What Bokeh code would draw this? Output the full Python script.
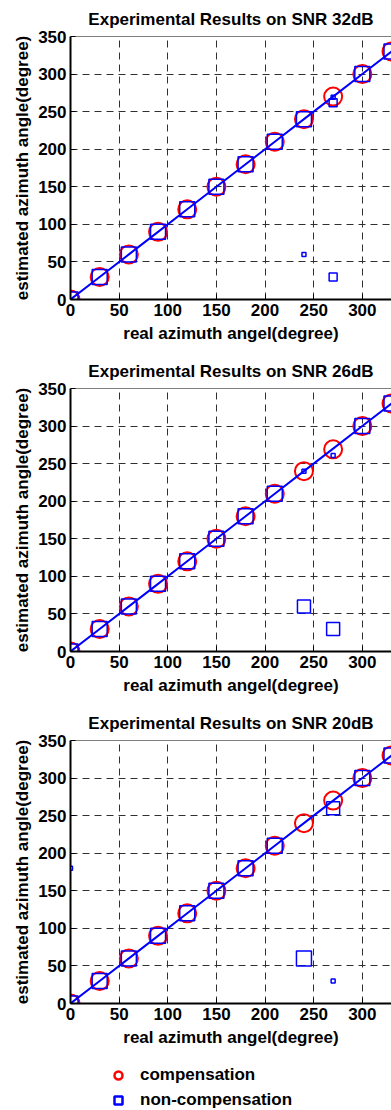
from bokeh.plotting import figure
from bokeh.layouts import column
from bokeh.models import FixedTicker, Range1d, Span, Legend, LegendItem
from bokeh.embed import file_html
from bokeh.resources import INLINE

# ---------------- data ----------------
real_angle = [0, 30, 60, 90, 120, 150, 180, 210, 240, 270, 300, 330]
x_ticks = [0, 50, 100, 150, 200, 250, 300]
y_ticks = [0, 50, 100, 150, 200, 250, 300, 350]
titles = ["Experimental Results on SNR 32dB",
          "Experimental Results on SNR 26dB",
          "Experimental Results on SNR 20dB"]
series_names = ["compensation", "non-compensation"]

# compensation estimates
comp_32 = [0, 30, 60, 90, 120, 150, 180, 210, 240, 270, 300, 330]
comp_26 = [0, 30, 60, 90, 120, 150, 180, 210, 240, 269, 300, 330]
comp_20 = [0, 30, 60, 90, 120, 150, 180, 210, 240, 270, 300, 330]

# non-compensation estimates (real angle, estimated angle)
nc_32_x = [0, 30, 60, 90, 120, 150, 180, 210, 240, 270, 270, 300, 330, 240, 270]
nc_32_y = [0, 30, 60, 90, 120, 150, 180, 210, 240, 269, 262, 300, 330, 60, 30]
nc_26_x = [0, 30, 60, 90, 120, 150, 180, 210, 240, 270, 300, 330, 240, 270]
nc_26_y = [0, 30, 60, 90, 120, 150, 180, 210, 240, 261, 300, 330, 60, 30]
nc_20_x = [0, 30, 60, 90, 120, 150, 180, 210, 270, 300, 330, 0, 240, 270]
nc_20_y = [0, 30, 60, 90, 120, 150, 180, 210, 260, 300, 330, 180, 60, 30]

# marker sizes of the non-compensation squares (px)
nc_32_size = [15, 15, 15, 15, 15, 15, 15, 15, 15, 4, 8, 15, 15, 4, 8]
nc_26_size = [15, 15, 15, 15, 15, 15, 15, 15, 4, 4, 15, 15, 13, 13]
nc_20_size = [15, 15, 15, 15, 15, 15, 15, 15, 13, 15, 15, 4, 15, 4]

FONT = "Liberation Sans"
FS = "17px"


def make_panel(title, comp, nc_x, nc_y, nc_size):
    p = figure(width=391, height=352, output_backend="svg", toolbar_location=None,
               x_range=Range1d(0, 330), y_range=Range1d(0, 350),
               min_border_left=70, min_border_right=0, min_border_top=35,
               min_border_bottom=53)
    p.title.text = title
    p.title.text_font = FONT
    p.title.text_font_style = "bold"
    p.title.text_font_size = FS
    p.title.text_color = "black"
    p.title.align = "center"
    p.title.standoff = 15
    p.outline_line_color = None
    p.background_fill_color = "white"
    p.border_fill_color = "white"

    p.xaxis.ticker = FixedTicker(ticks=x_ticks)
    p.yaxis.ticker = FixedTicker(ticks=y_ticks)
    p.xaxis.axis_label = "real azimuth angel(degree)"
    p.yaxis.axis_label = "estimated azimuth angle(degree)"
    for ax in (p.xaxis, p.yaxis):
        ax.axis_label_text_font = FONT
        ax.axis_label_text_font_style = "bold"
        ax.axis_label_text_font_size = FS
        ax.axis_label_text_color = "black"
        ax.major_label_text_font = FONT
        ax.major_label_text_font_style = "bold"
        ax.major_label_text_font_size = FS
        ax.major_label_text_color = "black"
        ax.major_tick_in = 5
        ax.major_tick_out = 0
        ax.minor_tick_line_color = None
        ax.axis_line_width = 2
        ax.axis_line_color = "black"
        ax.major_tick_line_color = "black"
        ax.major_label_standoff = 4
        ax.axis_label_standoff = 3
    p.xaxis.axis_label_standoff = 5

    p.grid.grid_line_color = "#303030"
    p.grid.grid_line_dash = "7 5"
    p.grid.grid_line_width = 1

    p.add_layout(Span(location=y_ticks[-1], dimension="width",
                      line_color="black", line_width=1))

    p.scatter(real_angle, comp, marker="circle", size=18,
              fill_color=None, line_color="red", line_width=2)
    p.scatter(nc_x, nc_y, marker="square", size=nc_size,
              fill_color=None, line_color="blue", line_width=1.5)
    p.line(real_angle, real_angle, line_color="blue", line_width=2)
    return p


p1 = make_panel(titles[0], comp_32, nc_32_x, nc_32_y, nc_32_size)
p2 = make_panel(titles[1], comp_26, nc_26_x, nc_26_y, nc_26_size)
p3 = make_panel(titles[2], comp_20, nc_20_x, nc_20_y, nc_20_size)

# legend strip below the three panels (its sample glyphs lie outside its view range)
pl = figure(width=391, height=54, output_backend="svg", toolbar_location=None,
            min_border_left=0, min_border_right=0, min_border_top=0,
            min_border_bottom=0, x_range=Range1d(-2, -1), y_range=Range1d(-2, -1))
pl.axis.visible = False
pl.grid.visible = False
pl.outline_line_color = None
lc = pl.scatter(real_angle[:1], comp_20[:1], marker="circle", fill_color=None,
                line_color="red", line_width=2.5)
ls = pl.scatter(nc_20_x[:1], nc_20_y[:1], marker="square", fill_color=None,
                line_color="blue", line_width=2.5)
legend = Legend(items=[LegendItem(label=series_names[0], renderers=[lc]),
                       LegendItem(label=series_names[1], renderers=[ls])],
                location=(38, 0), orientation="vertical",
                border_line_color=None, background_fill_alpha=0,
                label_text_font=FONT, label_text_font_style="bold",
                label_text_font_size=FS, label_text_color="black",
                glyph_width=20, glyph_height=20,
                label_height=20, spacing=5, padding=0, margin=0,
                label_standoff=12)
pl.add_layout(legend)

layout = column(p1, p2, p3, pl, spacing=0)
open("out.html", "w").write(file_html(layout, INLINE))
